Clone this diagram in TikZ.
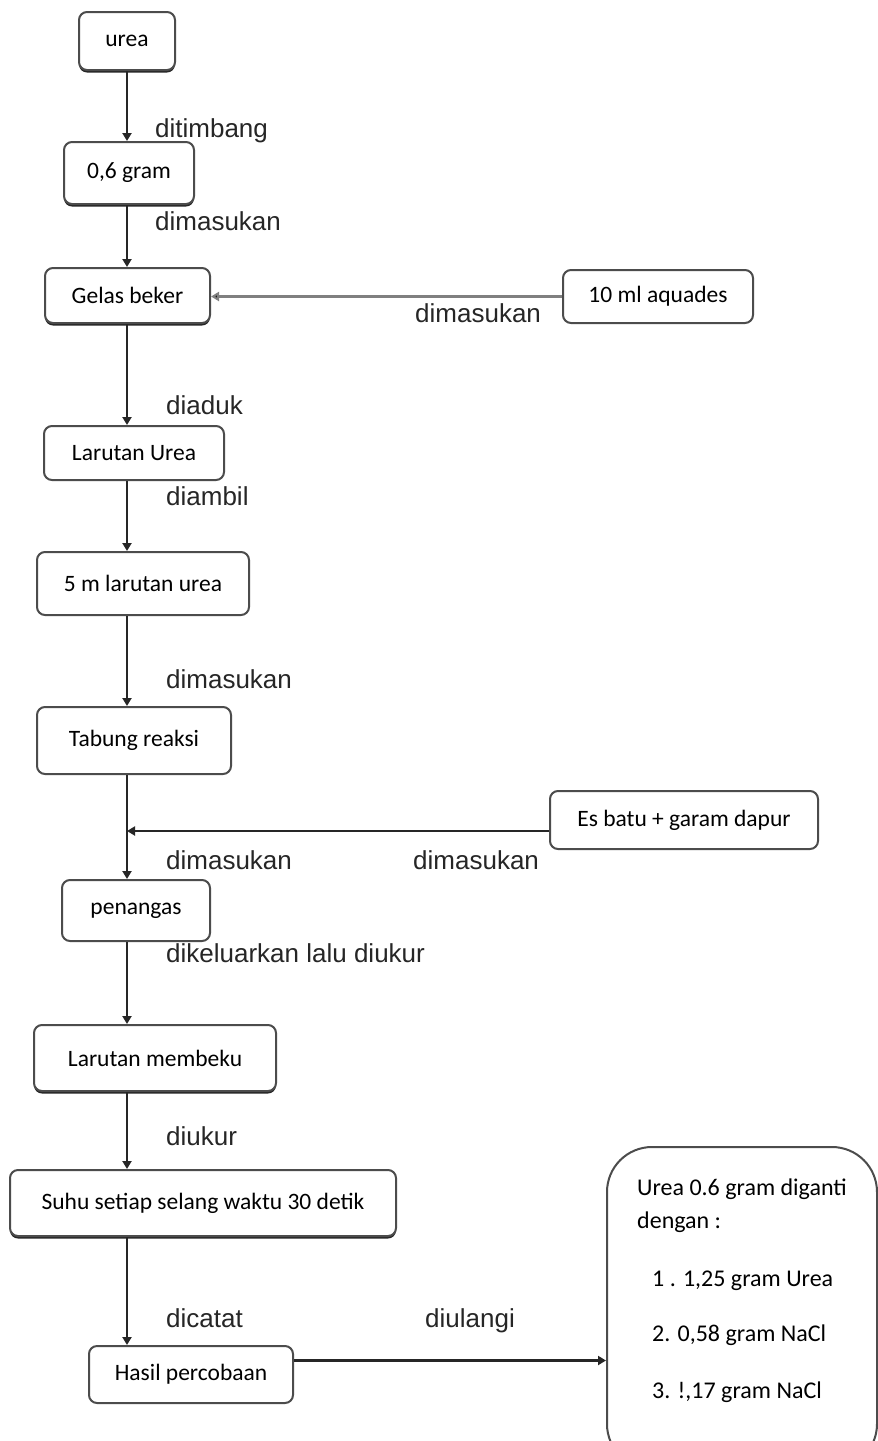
\documentclass[tikz,border=0pt]{standalone}
\usepackage{fontspec}
\setmainfont{Carlito}
\newfontfamily\lblfont{Liberation Sans}
\usetikzlibrary{arrows.meta,shadows,calc}
\begin{document}
\begin{tikzpicture}[x=1pt,y=-1pt,
  box/.style={draw=black!70, line width=2pt, rounded corners=8pt, fill=white, font=\fontsize{23.5}{28}\selectfont, inner sep=0pt, text=black},
  shd/.style={drop shadow={shadow xshift=0pt, shadow yshift=-2.5pt, fill=black!85, opacity=1}},
  arr/.style={draw=black!85, line width=2.2pt, -{Triangle[length=8pt,width=9pt]}},
  grayarr/.style={draw=black!50, line width=2.6pt, -{Triangle[length=8pt,width=9pt,fill=black!90]}},
  lbl/.style={font=\lblfont\fontsize{26}{30}\selectfont, text=black!85, anchor=base west, inner sep=0pt},
  itm/.style={font=\fontsize{24}{28}\selectfont, text=black, anchor=base west, inner sep=0pt},
]
\clip (0,0) rectangle (878,1441);
\fill[white] (0,0) rectangle (878,1441);
\coordinate (ax) at (127,0);

% boxes
\node[box, shd, minimum width=96pt, minimum height=58pt] (urea) at (127,41) {urea};
\node[box, shd, minimum width=130pt, minimum height=62pt] (gram) at (129,173) {0,6 gram};
\node[box, shd, minimum width=165pt, minimum height=55pt] (gelas) at (127.5,295.5) {Gelas beker};
\node[box, minimum width=190pt, minimum height=53pt] (aq) at (658,296.5) {10 ml aquades};
\node[box, minimum width=180pt, minimum height=54pt] (lu) at (134,453) {Larutan Urea};
\node[box, minimum width=212pt, minimum height=63pt] (lima) at (143,583.5) {5 m larutan urea};
\node[box, minimum width=194pt, minimum height=67pt] (tab) at (134,740.5) {Tabung reaksi};
\node[box, minimum width=268pt, minimum height=58pt] (es) at (684,820) {Es batu + garam dapur};
\node[box, minimum width=148pt, minimum height=61pt] (pen) at (136,910.5) {penangas};
\node[box, shd, minimum width=242pt, minimum height=66pt] (mem) at (155,1058) {Larutan membeku};
\node[box, shd, minimum width=386pt, minimum height=66pt] (suhu) at (203,1203) {Suhu setiap selang waktu 30 detik};
\node[box, minimum width=204pt, minimum height=57pt] (hasil) at (191,1374.5) {Hasil percobaan};
\node[box, rounded corners=45pt, minimum width=270pt, minimum height=322pt] (rbox) at (742,1308) {};

% text inside the right box
\node[itm] (r1) at (637,1195) {Urea 0.6 gram diganti};
\node[itm] (r2) at (637,1228) {dengan :};
\node[itm] (r3) at (652,1286) {1 . 1,25 gram Urea};
\node[itm] (r4) at (652,1341) {2. 0,58 gram NaCl};
\node[itm] (r5) at (652,1398) {3. !,17 gram NaCl};

% connectors
\draw[arr] (urea.south -| ax) -- (gram.north -| ax);
\draw[arr] (gram.south -| ax) -- (gelas.north -| ax);
\draw[grayarr] (aq.west) -- (aq.west -| gelas.east);
\draw[arr] (gelas.south -| ax) -- (lu.north -| ax);
\draw[arr] (lu.south -| ax) -- (lima.north -| ax);
\draw[arr] (lima.south -| ax) -- (tab.north -| ax);
\draw[arr] (tab.south -| ax) -- (pen.north -| ax);
\coordinate (e1) at ([yshift=-11pt]es.west);
\draw[arr] (e1) -- (e1 -| ax);
\draw[arr] (pen.south -| ax) -- (mem.north -| ax);
\draw[arr] (mem.south -| ax) -- (suhu.north -| ax);
\draw[arr] (suhu.south -| ax) -- (hasil.north -| ax);
\coordinate (h1) at ([yshift=14pt]hasil.east);
\draw[arr] (h1) -- (h1 -| rbox.west);

% labels
\node[lbl] (l1) at (155,137) {ditimbang};
\node[lbl] (l2) at (155,230) {dimasukan};
\node[lbl] (l3) at (415,322) {dimasukan};
\node[lbl] (l4) at (166,414) {diaduk};
\node[lbl] (l5) at (166,505) {diambil};
\node[lbl] (l6) at (166,688) {dimasukan};
\node[lbl] (l7) at (166,869) {dimasukan};
\node[lbl] (l8) at (413,869) {dimasukan};
\node[lbl] (l9) at (166,962) {dikeluarkan lalu diukur};
\node[lbl] (l10) at (166,1145) {diukur};
\node[lbl] (l11) at (166,1327) {dicatat};
\node[lbl] (l12) at (425,1327) {diulangi};
\end{tikzpicture}
\end{document}
